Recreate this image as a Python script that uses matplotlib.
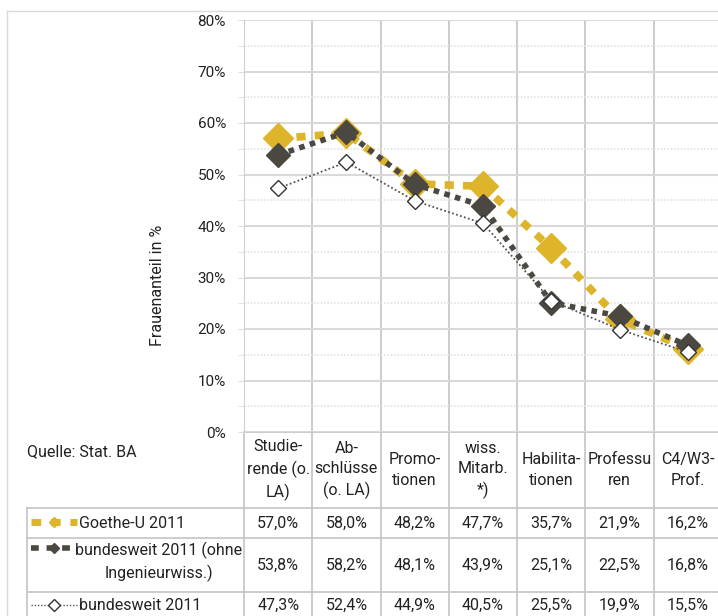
# Frauenanteil chart with data table (Excel style)
import matplotlib.pyplot as plt
import matplotlib.transforms as mtransforms
import numpy as np

plt.rcParams['font.family'] = ['Roboto', 'DejaVu Sans']

# Data
categories = ['Studie-\nrende (o.\nLA)', 'Ab-\nschlüsse\n(o. LA)', 'Promo-\ntionen',
              'wiss.\nMitarb.\n*)', 'Habilita-\ntionen', 'Professu\nren', 'C4/W3-\nProf.']
goethe = [57.0, 58.0, 48.2, 47.7, 35.7, 21.9, 16.2]
bund_ohne = [53.8, 58.2, 48.1, 43.9, 25.1, 22.5, 16.8]
bund = [47.3, 52.4, 44.9, 40.5, 25.5, 19.9, 15.5]
series_names = ['Goethe-U 2011', 'bundesweit 2011 (ohne\nIngenieurwiss.)', 'bundesweit 2011']
yticks = [0, 10, 20, 30, 40, 50, 60, 70, 80]

gold = '#DDB42A'
dark = '#4B4842'
txt = '#222222'
gridc = '#C4C4C4'
fs = 11.5

W, H = 718, 616
fig = plt.figure(figsize=(W / 100, H / 100), dpi=100)

# overlay in pixel coordinates for the frame / table
ov = fig.add_axes([0, 0, 1, 1], zorder=0)
ov.set_xlim(0, W)
ov.set_ylim(H, 0)
ov.axis('off')

# main plot area
left, right, top, bottom = 244, 722, 20, 432
ax = fig.add_axes([left / W, 1 - bottom / H, (right - left) / W, (bottom - top) / H], zorder=1)
ax.patch.set_alpha(0)
x = np.arange(len(categories))
ax.set_xlim(-0.5, len(categories) - 0.5)
ax.set_ylim(0, 80)

ax.set_yticks(yticks)
ax.set_yticklabels([f'{v}%' for v in yticks], fontsize=11, color=txt)
ax.set_yticks(np.arange(5, 80, 10), minor=True)
ax.tick_params(axis='y', which='both', length=4, color='#DDDDDD', pad=9)
ax.set_xticks([])
ax.set_xticks(np.arange(-0.5, len(categories)), minor=True)
ax.tick_params(axis='x', which='both', length=0)
ax.grid(axis='y', which='major', color='#D9D9D9', lw=1.5)
ax.grid(axis='y', which='minor', color='#E2E2E2', lw=1.2, ls=(0, (1, 1)))
ax.grid(axis='x', which='minor', color=gridc, lw=1.2)
for s in ['top', 'right', 'bottom']:
    ax.spines[s].set_visible(False)
ax.spines['left'].set_color('#D0D0D0')
ax.spines['left'].set_linestyle((0, (1, 1)))
ax.set_axisbelow(True)

# y axis title (placed lower, as in the original)
ov.text(158, 285, 'Frauenanteil in %', rotation=90, ha='center', va='center',
        fontsize=11.5, color=txt)

styles = [
    dict(color=gold, lw=5.5, dashes=(1.2, 1.2), marker='D', ms=15.5, mfc=gold, mec=gold),
    dict(color=dark, lw=4, dashes=(1, 1), marker='D', ms=12.5, mfc=dark, mec=dark),
    dict(color='#555555', lw=1.3, dashes=(1, 1.3), marker='D', ms=8.5, mfc='white',
         mec='#333333', mew=1),
]
for vals, st in zip([goethe, bund_ohne, bund], styles):
    ax.plot(x, vals, dash_capstyle='butt', clip_on=False, **st)

# frame of chart area
ov.plot([7, 7], [11, H], color='#D9D9D9', lw=1)
ov.plot([7, W], [11, 11], color='#D9D9D9', lw=1)

# data table
bt = mtransforms.blended_transform_factory(ax.transData, ov.transData)
tab_left = 27
rows_y = [508, 538, 592]
row_mid = [523, 565, 605]
head_mid = 470
ov.plot([left, W], [bottom, bottom], color=gridc, lw=1.2)
for yy in rows_y:
    ov.plot([tab_left, W], [yy, yy], color=gridc, lw=1.2)
ov.plot([tab_left, tab_left], [rows_y[0], H], color=gridc, lw=1.2)
for b in np.arange(-0.5, len(categories)):
    ov.plot([b, b], [bottom, H], color=gridc, lw=1.2, transform=bt)

for i, c in enumerate(categories):
    ov.text(i, head_mid, c, transform=bt, ha='center', va='center', fontsize=fs,
            color=txt, linespacing=1.45)

for vals, ym in zip([goethe, bund_ohne, bund], row_mid):
    for i, v in enumerate(vals):
        ov.text(i, ym, f'{v:.1f}%'.replace('.', ','), transform=bt, ha='center',
                va='center', fontsize=fs, color=txt)

ov.text(tab_left, 452, 'Quelle: Stat. BA', ha='left', va='center', fontsize=fs, color=txt)

# legend keys and series names in first column
key_y = [522, 548, 605]
key_st = [
    dict(color=gold, lw=5, dashes=(1.4, 1.4), marker='D', ms=5.5, mfc=gold, mec=gold),
    dict(color=dark, lw=4, dashes=(1.4, 1.4), marker='D', ms=5.5, mfc=dark, mec=dark),
    dict(color='#555555', lw=1, dashes=(1, 1.3), marker='D', ms=6, mfc='white', mec='#333333'),
]
for ky, st in zip(key_y, key_st):
    ov.plot([31, 54, 77], [ky, ky, ky], markevery=[1], dash_capstyle='butt', **st)
ov.text(79, row_mid[0], series_names[0], ha='left', va='center', fontsize=fs, color=txt)
ov.text(159, row_mid[1] - 3, series_names[1], ha='center', va='center', fontsize=fs,
        color=txt, linespacing=1.45)
ov.text(79, row_mid[2], series_names[2], ha='left', va='center', fontsize=fs, color=txt)

fig.savefig('out.png', dpi=100)
